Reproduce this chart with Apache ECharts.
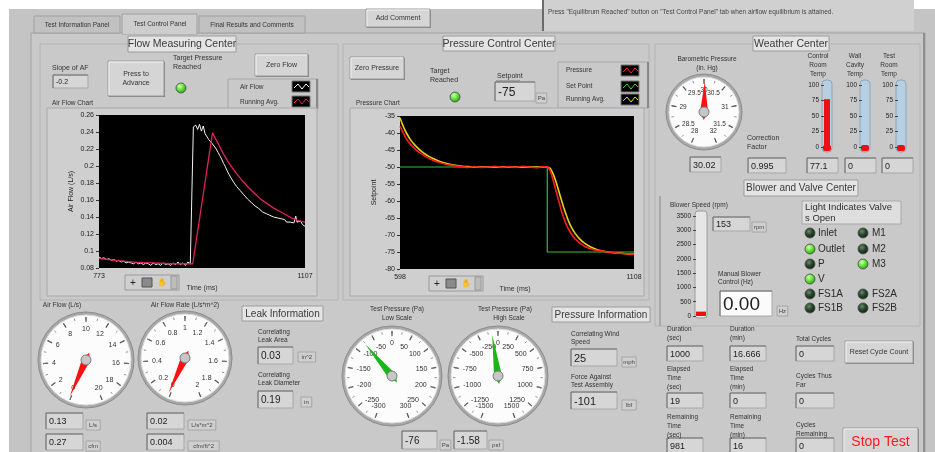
<!DOCTYPE html>
<html>
<head>
<meta charset="utf-8">
<title>Test Control Panel</title>
<script src="https://cdn.jsdelivr.net/npm/echarts@6/dist/echarts.min.js"></script>
<style>
  html, body { margin: 0; padding: 0; background: #fff; }
  #main { width: 935px; height: 452px; }
</style>
</head>
<body>
<div id="main"></div>
<script>
// --- Air Flow Chart (L/s over time) ---
const flowTime = [773, 777, 781, 785, 789, 793, 797, 801, 805, 809, 813, 817, 821, 825, 829, 833, 837, 841, 845, 849,
  853, 857, 861, 865, 869, 873, 877, 881, 885, 889, 893, 897, 901, 905, 909, 913, 917, 921, 924, 926,
  930, 933, 936, 939, 942, 945, 948, 951, 954, 957, 960, 963, 966, 969, 972, 975, 978, 981, 984, 987,
  990, 993, 996, 999, 1002, 1005, 1008, 1011, 1014, 1017, 1020, 1023, 1026, 1029, 1032, 1035, 1038, 1041, 1044, 1047,
  1050, 1053, 1056, 1059, 1062, 1065, 1068, 1071, 1074, 1077, 1080, 1083, 1086, 1089, 1092, 1094, 1097, 1100, 1103, 1107];
const flowAir = [0.093, 0.091, 0.092, 0.090, 0.091, 0.089, 0.090, 0.088, 0.089, 0.087, 0.088, 0.086, 0.087, 0.086, 0.085, 0.087, 0.085, 0.086, 0.084, 0.086,
  0.085, 0.083, 0.086, 0.084, 0.085, 0.083, 0.086, 0.084, 0.085, 0.083, 0.086, 0.084, 0.087, 0.084, 0.086, 0.083, 0.087, 0.085, 0.086, 0.246,
  0.248, 0.243, 0.249, 0.241, 0.247, 0.238, 0.236, 0.231, 0.232, 0.226, 0.227, 0.220, 0.216, 0.212, 0.208, 0.203, 0.199, 0.194, 0.190, 0.186,
  0.184, 0.179, 0.176, 0.174, 0.171, 0.169, 0.166, 0.165, 0.161, 0.160, 0.157, 0.155, 0.153, 0.151, 0.150, 0.149, 0.146, 0.147, 0.144, 0.145,
  0.142, 0.143, 0.140, 0.141, 0.139, 0.137, 0.138, 0.136, 0.137, 0.134, 0.136, 0.134, 0.135, 0.133, 0.141, 0.134, 0.133, 0.135, 0.131, 0.129];
const avgTime = [773, 800, 830, 860, 890, 925, 957, 965, 975, 985, 995, 1005, 1015, 1025, 1035, 1045, 1055, 1065, 1075, 1085, 1095, 1107];
const flowAvg = [0.091, 0.089, 0.087, 0.086, 0.085, 0.085, 0.239, 0.228, 0.214, 0.202, 0.192, 0.183, 0.175, 0.168, 0.161, 0.156, 0.151, 0.147, 0.143, 0.139, 0.136, 0.134];

// --- Pressure Chart (Pa over time) ---
const pressTime = [598, 605, 612, 620, 630, 640, 650, 660, 670, 680, 690, 700, 715, 730, 745, 760, 775, 790, 805, 820,
  835, 850, 865, 880, 895, 910, 919, 925, 930, 935, 940, 945, 950, 955, 960, 965, 970, 980, 990, 1000,
  1015, 1030, 1050, 1070, 1090, 1108];
const pressure = [-38, -40, -41.8, -43.2, -44.6, -45.7, -46.6, -47.4, -48, -48.5, -48.9, -49.3, -49.6, -49.9, -50.1, -49.9, -50.1, -50, -49.8, -50.1,
  -49.9, -50.1, -49.8, -50, -50.2, -49.9, -50, -51, -53, -55.5, -58, -60.5, -63, -65, -66.8, -68.2, -69.4, -71.2, -72.4, -73.3,
  -74.1, -74.6, -75, -75.3, -75.5, -75.7];
const runTime = [598, 605, 612, 620, 630, 640, 650, 660, 670, 680, 690, 700, 715, 730, 745, 760, 919, 925, 930, 935,
  940, 945, 950, 955, 960, 965, 970, 980, 990, 1000, 1015, 1030, 1050, 1070, 1090, 1108];
const pressAvg = [-35.5, -38, -40, -41.8, -43.5, -44.8, -45.9, -46.8, -47.5, -48.1, -48.6, -49, -49.4, -49.7, -49.9, -50, -50, -50.4, -51.5, -53.2,
  -55.2, -57.5, -59.8, -62, -64, -65.8, -67.3, -69.6, -71.2, -72.4, -73.6, -74.4, -75, -75.3, -75.5, -75.6];
const setTime = [598, 919, 919, 1108];
const setPoint = [-50, -50, -75, -75];

// --- dial and bar readings ---
const airFlowLs = 0.13;
const airFlowRate = 0.02;
const testPressure = -76;
const baroPressure = 30.02;
const roomTemps = [77.1, 0, 0];
const blowerSpeed = 153;

const FONT = 'Liberation Sans, Arial, sans-serif';
const zip = (a, b) => a.map((v, i) => [v, b[i]]);

// graphic helpers
const G = [];
let zc = 0;
function shape(o) { o.z = 1 + (zc++) * 0.0005; G.push(o); return o; }
function rect(x, y, w, h, fill, stroke, r) {
  return shape({ type: 'rect', shape: { x: x, y: y, width: w, height: h, r: r || 0 },
    style: { fill: fill, stroke: stroke || null, lineWidth: 1 } });
}
function line(x1, y1, x2, y2, color, w) {
  return shape({ type: 'line', shape: { x1: x1, y1: y1, x2: x2, y2: y2 }, style: { stroke: color, lineWidth: w || 1 } });
}
function text(x, y, s, size, o) {
  const st = Object.assign({ text: s, fontSize: size || 7, fontFamily: FONT, fill: '#333',
    align: 'left', textAlign: 'left', verticalAlign: 'middle', textVerticalAlign: 'middle',
    lineHeight: Math.round((size || 7) * 1.3) }, o || {});
  if (st.align !== 'left') st.textAlign = st.align;
  G.push({ type: 'text', x: x, y: y, z: 10, style: st });
}
function button(x, y, w, h, label, size, color) {
  rect(x + 1, y + 1, w, h, '#808080');
  rect(x, y, w, h, '#d5d5d5', '#9a9a9a');
  line(x + 1, y + 1, x + w - 1, y + 1, '#f2f2f2');
  line(x + 1, y + 1, x + 1, y + h - 1, '#f2f2f2');
  text(x + w / 2, y + h / 2, label, size || 7, { align: 'center', fill: color || '#333' });
}
function ind(x, y, w, h, val, size, bg) {
  rect(x, y, w, h, bg || '#d6d6d6', '#a8a8a8');
  line(x, y, x + w, y, '#6e6e6e');
  line(x, y, x, y + h, '#6e6e6e');
  text(x + 3, y + h / 2 + 1, val, size || 10, { fill: '#222' });
}
function unit(x, y, s) {
  const w = s.length * 3.4 + 4;
  rect(x, y - 5, w, 10, '#cfcfcf', '#a6a6a6');
  text(x + w / 2, y, s, 6, { align: 'center', fill: '#444' });
}
function sec(x, y, w, h, s, size) {
  rect(x, y, w, h, '#e4e4e4', '#9c9c9c');
  text(x + w / 2, y + h / 2 + 0.5, s, size || 10.5, { align: 'center', fill: '#3a3a3a' });
}
function led(cx, cy, on) {
  shape({ type: 'circle', shape: { cx: cx, cy: cy, r: 5 },
    style: { stroke: '#4a4a4a', lineWidth: 0.8,
      fill: { type: 'radial', x: 0.4, y: 0.35, r: 0.75, colorStops: on
        ? [{ offset: 0, color: '#e2ffc0' }, { offset: 0.4, color: '#66e83e' }, { offset: 1, color: '#1f8a10' }]
        : [{ offset: 0, color: '#6a8a6a' }, { offset: 0.45, color: '#24442a' }, { offset: 1, color: '#0b1a0c' }] } } });
}
function swatch(x, y, color) {
  rect(x, y, 18, 11, '#000', '#777');
  shape({ type: 'polyline', shape: { points: [[x + 2, y + 7], [x + 6, y + 3], [x + 10, y + 8], [x + 14, y + 3], [x + 17, y + 6]] },
    style: { stroke: color, lineWidth: 1, fill: null } });
}
function toolbar(x, y) {
  rect(x, y, 54, 15, '#cfcfcf', '#9a9a9a');
  text(x + 8, y + 8, '+', 10, { align: 'center', fill: '#222' });
  rect(x + 17, y + 3, 10, 9, '#8a8a8a', '#555');
  text(x + 37, y + 8, '✋', 8, { align: 'center', fill: '#333', fontFamily: 'DejaVu Sans' });
  rect(x + 46, y + 1, 6, 13, '#bdbdbd', '#999');
}
function gauge(cx, cy, r, min, max, split, val, needle, labelDist, labelSize) {
  shape({ type: 'circle', shape: { cx: cx, cy: cy, r: r + 3 }, style: { fill: '#a8a8a8', stroke: '#8c8c8c', lineWidth: 1 } });
  shape({ type: 'circle', shape: { cx: cx, cy: cy, r: r }, style: { fill: '#fcfcfc', stroke: '#dcdcdc', lineWidth: 1 } });
  return {
    type: 'gauge', center: [cx, cy], radius: r - 1, min: min, max: max, splitNumber: split,
    startAngle: 248, endAngle: -68,
    axisLine: { show: false, lineStyle: { width: 1 } },
    progress: { show: false },
    splitLine: { show: true, distance: 0, length: 5, lineStyle: { color: '#555', width: 1.2 } },
    axisTick: { show: true, distance: 0, length: 2.5, splitNumber: 2, lineStyle: { color: '#777', width: 0.8 } },
    axisLabel: { distance: labelDist, fontSize: labelSize || 7, color: '#333', fontFamily: FONT },
    pointer: { show: true, length: '90%', width: 4, itemStyle: { color: needle } },
    anchor: { show: true, showAbove: true, size: 10, itemStyle: { color: '#c6c6c6', borderColor: '#7a7a7a', borderWidth: 1 } },
    title: { show: false }, detail: { show: false },
    data: [{ value: val }]
  };
}

// --- background and frames ---
rect(9, 9, 926, 443, '#c4c4c4');
rect(542, 0, 372, 31, '#d0d0d0');
line(543, 0, 543, 31, '#4a4a4a', 1.5);
text(548, 12, 'Press "Equilibrum Reached" button on "Test Control Panel" tab when airflow equilibrium is attained.', 6.5, { fill: '#444' });
rect(31, 33, 894, 425, '#c9c9c9', '#a2a2a2');
line(924, 33, 924, 452, '#8e8e8e', 2);
// tabs
rect(34, 16, 86, 17, '#c1c1c1', '#a0a0a0');
text(77, 25, 'Test Information Panel', 6.5, { align: 'center' });
rect(122, 14, 75, 20, '#cdcdcd', '#a0a0a0');
line(123, 33, 196, 33, '#cdcdcd', 2);
text(160, 24, 'Test Control Panel', 6.5, { align: 'center' });
rect(199, 16, 106, 17, '#c1c1c1', '#a0a0a0');
text(252, 25, 'Final Results and Comments', 6.5, { align: 'center' });
button(366, 9, 64, 18, 'Add Comment', 7);

// sub panels
rect(40, 44, 298, 256, null, '#b4b4b4');
rect(343, 44, 306, 256, null, '#b4b4b4');
rect(655, 44, 265, 282, null, '#b4b4b4');
line(660, 196, 660, 326, '#a8a8a8', 2);

sec(128, 36, 108, 16, 'Flow Measuring Center');
sec(443, 36, 112, 15, 'Pressure Control Center');
sec(753, 36, 76, 15, 'Weather Center');
sec(744, 180, 114, 16, 'Blower and Valve Center', 10);

// flow measuring controls
text(52, 68, 'Slope of AF', 7);
ind(53, 75, 35, 13, '-0.2', 7);
button(108, 61, 56, 35, 'Press to\nAdvance', 7);
text(173, 63, 'Target Pressure\nReached', 7);
led(181, 88, true);
button(255, 54, 53, 22, 'Zero Flow', 7);
rect(228, 79, 90, 30, '#c9c9c9', '#a8a8a8');
line(317, 79, 317, 109, '#8a8a8a', 2);
text(240, 87, 'Air Flow', 6.5);
text(240, 102, 'Running Avg.', 6.5);
swatch(292, 81, '#ffffff');
swatch(292, 96, '#e0205a');
text(52, 103, 'Air Flow Chart', 6.5);
rect(47, 108, 270, 188, '#cfcfcf', '#a8a8a8');
rect(99, 115, 206, 153, '#000');
toolbar(125, 275);
text(202, 288, 'Time (ms)', 7, { align: 'center' });

// pressure controls
button(350, 57, 54, 22, 'Zero Pressure', 7);
text(430, 76, 'Target\nReached', 7);
led(455, 97, true);
text(497, 76, 'Setpoint', 7);
line(496, 81, 520, 81, '#777');
ind(495, 82, 40, 19, '-75', 12);
unit(536, 98, 'Pa');
rect(558, 62, 90, 46, '#c9c9c9', '#a8a8a8');
line(648, 62, 648, 108, '#8a8a8a', 2);
text(566, 70, 'Pressure', 6.5);
text(566, 86, 'Set Point', 6.5);
text(566, 99, 'Running Avg.', 6.5);
swatch(621, 65, '#ff2020');
swatch(621, 81, '#40d040');
swatch(621, 94, '#e8e020');
text(356, 103, 'Pressure Chart', 6.5);
rect(350, 108, 294, 188, '#cfcfcf', '#a8a8a8');
rect(400, 116, 234, 153, '#000');
toolbar(429, 276);
text(515, 289, 'Time (ms)', 7, { align: 'center' });

// weather center
text(707, 59, 'Barometric Pressure', 6.5, { align: 'center' });
text(707, 68, '(in. Hg)', 6.5, { align: 'center' });
ind(690, 157, 31, 15, '30.02', 9);
text(747, 143, 'Correction\nFactor', 7);
ind(748, 158, 38, 15, '0.995', 9);
const thermoX = [823, 861, 897];
const thermoLabelX = [818, 855, 889];
const thermoNames = ['Control\nRoom\nTemp', 'Wall\nCavity\nTemp', 'Test\nRoom\nTemp'];
const thermoBox = [807, 845, 882];
thermoX.forEach((x, i) => {
  text(thermoLabelX[i], 65, thermoNames[i], 6.5, { align: 'center', lineHeight: 9 });
  rect(x - 1, 80, 10, 72, '#b7cfe3', '#8ea6ba', 4);
  rect(x, 145, 8, 6, '#e81010', null, 2);
  ind(thermoBox[i], 158, 31, 15, String(roomTemps[i]), 9);
});

// blower / valves
text(670, 205, 'Blower Speed (rpm)', 6.5);
rect(695, 211, 12, 107, '#e6e6e6', '#9a9a9a', 3);
ind(713, 217, 37, 14, String(blowerSpeed), 9);
unit(752, 227, 'rpm');
text(718, 278, 'Manual Blower\nControl (Hz)', 6.5);
ind(720, 291, 52, 25, '0.00', 19, '#fbfbfb');
unit(777, 311, 'Hz');
rect(802, 201, 99, 23, '#dedede', '#a8a8a8');
text(805, 213, 'Light Indicates Valve\ns Open', 9.5, { fill: '#2e2e2e', lineHeight: 11 });
const valveNames1 = ['Inlet', 'Outlet', 'P', 'V', 'FS1A', 'FS1B'];
const valveOn1 = [false, true, false, true, false, false];
const valveNames2 = ['M1', 'M2', 'M3', '', 'FS2A', 'FS2B'];
const valveOn2 = [false, false, true, null, false, false];
const rowY = [233, 249, 264, 279, 294, 308];
rowY.forEach((y, i) => {
  led(810, y, valveOn1[i]);
  text(818, y, valveNames1[i], 10, { fill: '#2a2a2a' });
  if (valveNames2[i]) {
    led(863, y, valveOn2[i]);
    text(872, y, valveNames2[i], 10, { fill: '#2a2a2a' });
  }
});

// bottom left: flow dials
text(62, 305, 'Air Flow (L/s)', 6.5, { align: 'center' });
text(185, 305, 'Air Flow Rate (L/s*m^2)', 6.5, { align: 'center' });
ind(46, 413, 37, 16, '0.13', 9);
unit(86, 425, 'L/s');
ind(46, 434, 37, 16, '0.27', 9);
unit(86, 446, 'cfm');
ind(147, 413, 37, 16, '0.02', 9);
unit(188, 425, 'L/s*m^2');
ind(147, 434, 37, 16, '0.004', 9);
unit(188, 446, 'cfm/ft^2');
sec(242, 306, 81, 15, 'Leak Information', 10);
text(258, 336, 'Correlating\nLeak Area', 6.5);
ind(258, 347, 35, 17, '0.03', 10);
unit(298, 357, 'in^2');
text(258, 379, 'Correlating\nLeak Diameter', 6.5);
ind(258, 391, 35, 17, '0.19', 10);
unit(301, 402, 'in');

// bottom middle: pressure dials
text(397, 309, 'Test Pressure (Pa)', 6.5, { align: 'center' });
text(397, 318, 'Low Scale', 6.5, { align: 'center' });
text(505, 309, 'Test Pressure (Pa)', 6.5, { align: 'center' });
text(509, 318, 'High Scale', 6.5, { align: 'center' });
ind(402, 431, 35, 18, String(testPressure), 10);
unit(440, 445, 'Pa');
ind(454, 431, 33, 18, '-1.58', 10);
unit(489, 445, 'psf');
sec(552, 307, 98, 15, 'Pressure Information', 10);
text(571, 338, 'Correlating Wind\nSpeed', 6.5);
ind(571, 349, 46, 17, '25', 11);
unit(622, 362, 'mph');
text(571, 381, 'Force Against\nTest Assembly', 6.5);
ind(571, 392, 46, 17, '-101', 11);
unit(622, 405, 'lbf');

// bottom right: timing
const timeColX = [667, 730];
const timeLabels = [['Duration\n(sec)', 'Elapsed\nTime\n(sec)', 'Remaining\nTime\n(sec)'],
                    ['Duration\n(min)', 'Elapsed\nTime\n(min)', 'Remaining\nTime\n(min)']];
const timeValues = [['1000', '19', '981'], ['16.666', '0', '16']];
const timeLabelY = [334, 378, 426];
const timeBoxY = [346, 393, 438];
timeColX.forEach((x, c) => {
  [0, 1, 2].forEach(r => {
    text(x, timeLabelY[r], timeLabels[c][r], 6.5, { lineHeight: 9 });
    ind(x, timeBoxY[r], 36, 15, timeValues[c][r], 9);
  });
});
text(796, 339, 'Total Cycles', 6.5);
ind(796, 346, 38, 15, '0', 9);
text(796, 381, 'Cycles Thus\nFar', 6.5, { lineHeight: 9 });
ind(796, 393, 38, 15, '0', 9);
text(796, 430, 'Cycles\nRemaining', 6.5, { lineHeight: 9 });
ind(796, 438, 38, 15, '0', 9);
button(845, 341, 68, 22, 'Reset Cycle Count', 7);
button(843, 428, 75, 28, 'Stop Test', 14, '#ff1a1a');

// --- chart option ---
const axisText = { fontSize: 7, color: '#222', fontFamily: FONT };
const onlyEnds = (lo, hi) => v => (v === lo || v === hi) ? String(v) : '';
const plain = v => String(v);

const option = {
  animation: false,
  backgroundColor: '#ffffff',
  graphic: { elements: G },
  grid: [
    { left: 99, top: 115, width: 206, height: 153, outerBoundsMode: 'none' },
    { left: 400, top: 116, width: 234, height: 153, outerBoundsMode: 'none' },
    { left: 824, top: 85, width: 6, height: 62, outerBoundsMode: 'none' },
    { left: 862, top: 85, width: 6, height: 62, outerBoundsMode: 'none' },
    { left: 898, top: 85, width: 6, height: 62, outerBoundsMode: 'none' },
    { left: 696, top: 216, width: 10, height: 100, outerBoundsMode: 'none' }
  ],
  xAxis: [
    { gridIndex: 0, type: 'value', min: 773, max: 1107, z: 5, splitLine: { show: false }, axisLine: { show: false },
      axisTick: { show: false }, axisLabel: Object.assign({ formatter: onlyEnds(773, 1107), margin: 5, showMinLabel: true, showMaxLabel: true }, axisText) },
    { gridIndex: 1, type: 'value', min: 598, max: 1108, z: 5, splitLine: { show: false }, axisLine: { show: false },
      axisTick: { show: false }, axisLabel: Object.assign({ formatter: onlyEnds(598, 1108), margin: 5, showMinLabel: true, showMaxLabel: true }, axisText) },
    { gridIndex: 2, type: 'category', data: ['Control Room Temp'], show: false },
    { gridIndex: 3, type: 'category', data: ['Wall Cavity Temp'], show: false },
    { gridIndex: 4, type: 'category', data: ['Test Room Temp'], show: false },
    { gridIndex: 5, type: 'category', data: ['Blower Speed'], show: false }
  ],
  yAxis: [
    { gridIndex: 0, type: 'value', min: 0.08, max: 0.26, interval: 0.02, z: 5, splitLine: { show: false },
      axisLine: { show: false }, axisTick: { show: true, length: 3, lineStyle: { color: '#333' } },
      axisLabel: Object.assign({ margin: 5 }, axisText),
      name: 'Air Flow (L/s)', nameLocation: 'middle', nameGap: 24, nameRotate: 90, nameTextStyle: axisText },
    { gridIndex: 1, type: 'value', min: -80, max: -35, interval: 5, z: 5, splitLine: { show: false },
      axisLine: { show: false }, axisTick: { show: true, length: 3, lineStyle: { color: '#333' } },
      axisLabel: Object.assign({ margin: 5 }, axisText),
      name: 'Setpoint', nameLocation: 'middle', nameGap: 22, nameRotate: 90, nameTextStyle: axisText },
    ...[2, 3, 4].map(g => ({ gridIndex: g, type: 'value', min: 0, max: 100, interval: 25, z: 5,
      splitLine: { show: false }, axisLine: { show: false },
      axisTick: { show: true, length: 3, lineStyle: { color: '#444' } },
      axisLabel: Object.assign({ margin: 5, formatter: plain }, axisText, { fontSize: 6.5 }) })),
    { gridIndex: 5, type: 'value', min: 0, max: 3500, interval: 500, z: 5, splitLine: { show: false },
      axisLine: { show: false }, axisTick: { show: true, length: 3, lineStyle: { color: '#444' } },
      axisLabel: Object.assign({ margin: 5, formatter: plain }, axisText, { fontSize: 6.5 }) }
  ],
  series: [
    { name: 'Air Flow', type: 'line', xAxisIndex: 0, yAxisIndex: 0, data: zip(flowTime, flowAir),
      showSymbol: false, lineStyle: { color: '#f2f2f2', width: 1 } },
    { name: 'Running Avg.', type: 'line', xAxisIndex: 0, yAxisIndex: 0, data: zip(avgTime, flowAvg),
      showSymbol: false, lineStyle: { color: '#e0205a', width: 1.3 } },
    { name: 'Set Point', type: 'line', xAxisIndex: 1, yAxisIndex: 1, data: zip(setTime, setPoint),
      showSymbol: false, lineStyle: { color: '#34c034', width: 1.2 } },
    { name: 'Running Avg. (Pa)', type: 'line', xAxisIndex: 1, yAxisIndex: 1, data: zip(runTime, pressAvg),
      showSymbol: false, smooth: 0.2, lineStyle: { color: '#e6d21a', width: 1.6 } },
    { name: 'Pressure', type: 'line', xAxisIndex: 1, yAxisIndex: 1, data: zip(pressTime, pressure),
      showSymbol: false, smooth: 0.2, lineStyle: { color: '#ff1c1c', width: 1.6 } },
    ...roomTemps.map((v, i) => ({ type: 'bar', xAxisIndex: 2 + i, yAxisIndex: 2 + i, data: [v],
      barWidth: 6, itemStyle: { color: '#ee1010' } })),
    { type: 'bar', xAxisIndex: 5, yAxisIndex: 5, data: [blowerSpeed], barWidth: 10, itemStyle: { color: '#ee1010' } },
    gauge(86, 360, 45, 0, 20, 10, airFlowLs, '#ff1010', 5),
    gauge(185, 358, 44, 0, 2, 10, airFlowRate, '#ff1010', 5),
    gauge(392, 376, 47, -300, 300, 12, testPressure, '#19b619', 5),
    gauge(498, 376, 47, -1500, 1500, 12, testPressure, '#19b619', 5),
    gauge(704, 112, 35, 28, 32, 8, baroPressure, '#ff1010', 4, 6.5)
  ]
};

const chart = echarts.init(document.getElementById('main'));
chart.setOption(option);
</script>
</body>
</html>
